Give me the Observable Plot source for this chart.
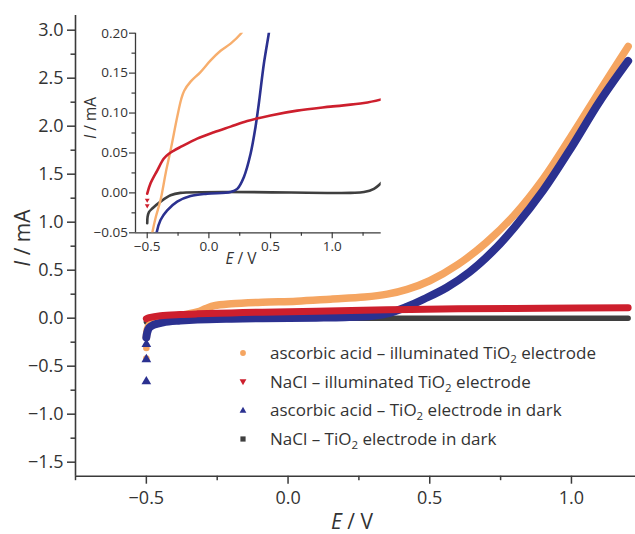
<!DOCTYPE html>
<html><head><meta charset="utf-8">
<script src="https://cdn.jsdelivr.net/npm/d3@7"></script>
<script src="https://cdn.jsdelivr.net/npm/@observablehq/plot@0.6"></script>
<style>
html,body{margin:0;padding:0;background:#fff;}
#wrap{position:relative;width:635px;height:534px;font-family:"Open Sans",sans-serif;color:#333;overflow:hidden;}
#inset{position:absolute;left:80px;top:20px;}
#legend{position:absolute;left:0;top:0;width:635px;height:534px;pointer-events:none;}
.row{position:absolute;left:236px;height:28px;line-height:28px;font-size:17px;color:#333;white-space:nowrap;}
.row svg{position:absolute;left:0;top:9px;}
.row span{position:absolute;left:34px;top:0;}
.row sub{font-size:11.5px;vertical-align:-4px;line-height:0;}
</style></head>
<body><div id="wrap"><div id="legend"></div></div>
<script>
// ---- series (legend order) ----
const seriesNames = ["ascorbic acid – illuminated TiO|2| electrode", "NaCl – illuminated TiO|2| electrode", "ascorbic acid – TiO|2| electrode in dark", "NaCl – TiO|2| electrode in dark"];
const seriesColors = ["#f5a561", "#cd1f2d", "#2b3190", "#3f3f3f"];
const seriesSymbols = ["circle", "triangleDown", "triangleUp", "square"];

// ---- main plot data: [E / V, I / mA] ----
const mainAscorbicLight = [[-0.5,-0.2],[-0.497,-0.12],[-0.49,-0.07],[-0.475,-0.035],[-0.44,0.01],[-0.38,0.03],[-0.32,0.065],[-0.29,0.1],[-0.26,0.13],[-0.2,0.15],[-0.09,0.167],[0.03,0.177],[0.15,0.198],[0.27,0.22],[0.35,0.25],[0.42,0.3],[0.5,0.39],[0.6,0.56],[0.7,0.79],[0.8,1.08],[0.9,1.45],[1.0,1.9],[1.1,2.37],[1.2,2.83]];
const mainNaClLight = [[-0.5,-0.005],[-0.49,0.005],[-0.45,0.025],[-0.38,0.038],[-0.32,0.045],[-0.2,0.055],[-0.09,0.063],[0.1,0.073],[0.35,0.087],[0.6,0.097],[0.9,0.104],[1.2,0.108]];
const mainAscorbicDark = [[-0.5,-0.2],[-0.497,-0.15],[-0.49,-0.1],[-0.475,-0.07],[-0.44,-0.042],[-0.38,-0.025],[-0.32,-0.014],[-0.2,-0.005],[-0.09,0.0],[0.1,0.005],[0.2,0.01],[0.3,0.025],[0.36,0.055],[0.42,0.12],[0.48,0.2],[0.56,0.32],[0.64,0.48],[0.72,0.69],[0.8,0.95],[0.9,1.33],[1.0,1.78],[1.1,2.26],[1.2,2.68]];
const mainNaClDark = [[-0.5,-0.04],[-0.46,-0.02],[-0.39,-0.01],[-0.31,-0.003],[-0.23,0],[0.5,0],[1.2,0]];
const mainAscorbicLightScatter = [[-0.5,-0.31],[-0.5,-0.42]];
const mainAscorbicDarkScatter = [[-0.5,-0.27],[-0.5,-0.43],[-0.5,-0.66]];

// ---- inset data ----
const insetAscorbicLight = [[-0.47,-0.06],[-0.459,-0.05],[-0.43,-0.03],[-0.392,-0.009],[-0.35,0.025],[-0.311,0.053],[-0.257,0.095],[-0.225,0.117],[-0.2,0.128],[-0.15,0.139],[-0.07,0.151],[0.014,0.166],[0.095,0.178],[0.176,0.187],[0.257,0.199],[0.27,0.202]];
const insetNaClLight = [[-0.5,-0.001],[-0.473,0.012],[-0.419,0.028],[-0.365,0.043],[-0.324,0.049],[-0.284,0.053],[-0.23,0.0575],[-0.095,0.068],[0.041,0.076],[0.176,0.083],[0.311,0.09],[0.5,0.097],[0.716,0.103],[0.986,0.108],[1.257,0.1125],[1.397,0.117]];
const insetAscorbicDark = [[-0.43,-0.06],[-0.424,-0.05],[-0.392,-0.034],[-0.338,-0.022],[-0.257,-0.011],[-0.149,-0.004],[-0.014,-0.001],[0.176,0.001],[0.23,0.005],[0.284,0.02],[0.338,0.049],[0.378,0.0825],[0.405,0.112],[0.446,0.162],[0.486,0.2],[0.49,0.205]];
const insetNaClDark = [[-0.5,-0.038],[-0.497,-0.03],[-0.486,-0.024],[-0.459,-0.0196],[-0.392,-0.011],[-0.311,-0.003],[-0.23,0],[1.149,0],[1.257,0.001],[1.338,0.005],[1.397,0.0125]];
const insetNaClLightScatter = [[-0.5,-0.009],[-0.5,-0.016]];

// ---- axes ----
const mainXDomain = [-0.75, 1.226];
const mainYDomain = [-1.646, 3.153];
const mainXTicks = [-0.5, 0, 0.5, 1.0];
const mainXMinor = [-0.75, -0.25, 0.25, 0.75];
const mainYTicks = [-1.5, -1.0, -0.5, 0, 0.5, 1.0, 1.5, 2.0, 2.5, 3.0];
const mainYMinor = [-1.25, -0.75, -0.25, 0.25, 0.75, 1.25, 1.75, 2.25, 2.75];
const insetXDomain = [-0.595, 1.397];
const insetYDomain = [-0.05, 0.20];
const insetXTicks = [-0.5, 0, 0.5, 1.0];
const insetXMinor = [-0.25, 0.25, 0.75, 1.25];
const insetYTicks = [-0.05, 0, 0.05, 0.10, 0.15, 0.20];
const insetYMinor = [-0.025, 0.025, 0.075, 0.125, 0.175];

const AX = "#3a3a3a";
const fx = d => d[0], fy = d => d[1];
const fmt1 = d3.format(".1f"), fmt2 = d3.format(".2f");

function lineMark(data, color, w) {
  return Plot.line(data, {x: fx, y: fy, stroke: color, strokeWidth: w, curve: "catmull-rom", strokeLinecap: "round", strokeLinejoin: "round", clip: true});
}

const main = Plot.plot({
  width: 635, height: 534,
  marginLeft: 75, marginTop: 15, marginRight: 0, marginBottom: 58.3,
  x: {domain: mainXDomain, label: null},
  y: {domain: mainYDomain, label: null},
  style: {fontFamily: "Open Sans", fontSize: "18px", color: "#333", background: "transparent"},
  marks: [
    Plot.axisX({ticks: mainXTicks, tickSize: 8, tickPadding: 7, tickFormat: fmt1, label: null, stroke: AX, strokeWidth: 1.5, fontSize: 18, fill: "#333"}),
    Plot.axisX({ticks: mainXMinor, tickSize: 4.5, tickFormat: () => "", label: null, stroke: AX, strokeWidth: 1.5}),
    Plot.axisY({ticks: mainYTicks, tickSize: 8, tickPadding: 4, tickFormat: fmt1, label: null, stroke: AX, strokeWidth: 1.5, fontSize: 18, fill: "#333"}),
    Plot.axisY({ticks: mainYMinor, tickSize: 4.5, tickFormat: () => "", label: null, stroke: AX, strokeWidth: 1.5}),
    Plot.ruleX([mainXDomain[0]], {stroke: AX, strokeWidth: 1.6}),
    Plot.ruleY([mainYDomain[0]], {stroke: AX, strokeWidth: 1.6}),
    lineMark(mainNaClDark, seriesColors[3], 5.5),
    Plot.dot(mainAscorbicLightScatter, {x: fx, y: fy, r: 3.3, fill: seriesColors[0], stroke: "none"}),
    lineMark(mainAscorbicLight, seriesColors[0], 7.5),
    Plot.dot(mainAscorbicDarkScatter, {x: fx, y: fy, symbol: "triangle", r: 3.6, fill: seriesColors[2], stroke: "none"}),
    lineMark(mainAscorbicDark, seriesColors[2], 8),
    lineMark(mainNaClLight, seriesColors[1], 7)
  ]
});
document.getElementById("wrap").prepend(main);

const inset = Plot.plot({
  width: 310, height: 255,
  marginLeft: 55, marginTop: 12.7, marginRight: 9.3, marginBottom: 42.7,
  x: {domain: insetXDomain, label: null},
  y: {domain: insetYDomain, label: null},
  style: {fontFamily: "Open Sans", fontSize: "13.5px", color: "#333", background: "#fff"},
  marks: [
    Plot.axisX({ticks: insetXTicks, tickSize: 6, tickPadding: 3, tickFormat: fmt1, label: null, stroke: AX, strokeWidth: 1.2, fontSize: 13.5, fill: "#333"}),
    Plot.axisX({ticks: insetXMinor, tickSize: 3.5, tickFormat: () => "", label: null, stroke: AX, strokeWidth: 1.2}),
    Plot.axisY({ticks: insetYTicks, tickSize: 6, tickPadding: 1.5, tickFormat: fmt2, label: null, stroke: AX, strokeWidth: 1.2, fontSize: 13.5, fill: "#333"}),
    Plot.axisY({ticks: insetYMinor, tickSize: 3.5, tickFormat: () => "", label: null, stroke: AX, strokeWidth: 1.2}),
    Plot.ruleX([insetXDomain[0]], {stroke: AX, strokeWidth: 1.3}),
    Plot.ruleY([insetYDomain[0]], {stroke: AX, strokeWidth: 1.3}),
    lineMark(insetNaClDark, seriesColors[3], 2.6),
    lineMark(insetAscorbicLight, "#f7ae6d", 2.4),
    lineMark(insetAscorbicDark, seriesColors[2], 2.6),
    Plot.dot(insetNaClLightScatter, {x: fx, y: fy, symbol: "triangle", rotate: 180, r: 1.8, fill: seriesColors[1], stroke: "none"}),
    lineMark(insetNaClLight, seriesColors[1], 2.6)
  ]
});
inset.id = "inset";
document.getElementById("wrap").appendChild(inset);

// ---- axis titles with italic quantity symbols ----
function axisTitle(svgEl, x, y, rot, size, sym, unit) {
  const t = d3.select(svgEl).append("text")
    .attr("transform", `translate(${x},${y})` + (rot ? ` rotate(${rot})` : ""))
    .attr("text-anchor", "middle").attr("font-family", "Open Sans").attr("font-size", size).attr("fill", "#333");
  t.append("tspan").attr("font-style", "italic").text(sym);
  t.append("tspan").text(" / " + unit);
}
axisTitle(main, 30, 238, -90, 21, "I", "mA");
axisTitle(main, 352, 529, 0, 21, "E", "V");
axisTitle(inset, 16, 98, -90, 15.5, "I", "mA");
axisTitle(inset, 161, 244, 0, 15.5, "E", "V");

// ---- legend ----
const legendRowCenters = [353, 381.7, 410, 438.5];
function symbolSvg(kind, color) {
  let shape = "";
  if (kind === "circle") shape = `<circle cx="7" cy="5" r="2.9" fill="${color}"/>`;
  if (kind === "triangleDown") shape = `<path d="M3.6,2.2 L10.4,2.2 L7,8.2 Z" fill="${color}"/>`;
  if (kind === "triangleUp") shape = `<path d="M3.6,7.8 L10.4,7.8 L7,1.8 Z" fill="${color}"/>`;
  if (kind === "square") shape = `<rect x="4.4" y="2.4" width="5.2" height="5.2" fill="${color}"/>`;
  return `<svg width="14" height="10">${shape}</svg>`;
}
const leg = document.getElementById("legend");
seriesNames.forEach((name, i) => {
  const row = document.createElement("div");
  row.className = "row";
  row.style.top = (legendRowCenters[i] - 14) + "px";
  const parts = name.split("|");
  row.innerHTML = symbolSvg(seriesSymbols[i], seriesColors[i]) + `<span>${parts[0]}<sub>${parts[1]}</sub>${parts[2]}</span>`;
  leg.appendChild(row);
});
</script>
</body></html>
